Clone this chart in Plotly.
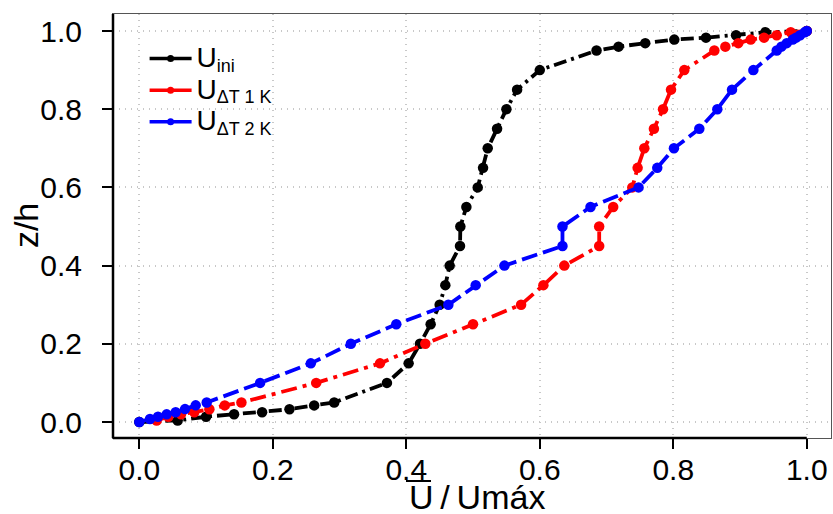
import plotly.graph_objects as go

# Normalised velocity profiles U/Umax against relative height z/h
z_lo = [0, 0.004, 0.0135, 0.02, 0.025, 0.0325, 0.0425, 0.05]
z_mid = [0.1, 0.15, 0.2, 0.25, 0.3, 0.35, 0.4, 0.45, 0.5, 0.55, 0.6,
         0.65, 0.7, 0.75, 0.8, 0.85, 0.9]
z_top = [0.95, 0.96, 0.969, 0.978, 0.983, 0.989, 0.997, 1.0]

z_ini = z_lo + z_mid + z_top
u_ini = [0, 0.0575, 0.100, 0.142, 0.184, 0.225, 0.262, 0.292,
         0.371, 0.4035, 0.4205, 0.4365, 0.450, 0.4585, 0.465, 0.4805, 0.481,
         0.490, 0.507, 0.515, 0.522, 0.536, 0.550, 0.566, 0.600,
         0.685, 0.718, 0.758, 0.8015, 0.849, 0.894, 0.938, 1.0]

z_dt1 = z_lo[1:] + z_mid + z_top
u_dt1 = [0.026, 0.0435, 0.0625, 0.0824, 0.105, 0.128, 0.153,
         0.265, 0.3606, 0.4285, 0.500, 0.572, 0.6054, 0.6367, 0.689, 0.689,
         0.710, 0.7386, 0.7466, 0.7566, 0.771, 0.7846, 0.7966, 0.8165,
         0.8615, 0.878, 0.8974, 0.916, 0.936, 0.955, 0.976, 1.0]

z_dt2 = [0, 0.0077, 0.0136, 0.0196, 0.025, 0.033, 0.0426, 0.05] + z_mid + z_top
u_dt2 = [0, 0.016, 0.028, 0.041, 0.0545, 0.0685, 0.0845, 0.101,
         0.181, 0.257, 0.317, 0.385, 0.463, 0.504, 0.547, 0.634, 0.634,
         0.676, 0.748, 0.776, 0.801, 0.839, 0.866, 0.888, 0.920,
         0.955, 0.962, 0.970, 0.979, 0.984, 0.990, 0.997, 1.0]

subs = ["ini", "ΔT 1 K", "ΔT 2 K"]
colors = ["#000000", "#ff0000", "#0000ff"]
dashes = ["13px,5px,3px,5px", "16px,6px,4px,6px", "16px,6px"]

tick_vals = [0.0, 0.2, 0.4, 0.6, 0.8, 1.0]
tick_text = ["0.0", "0.2", "0.4", "0.6", "0.8", "1.0"]

FONT = "Liberation Sans, Arial, Helvetica, sans-serif"


def legend_label(sub):
    return ("<span style='font-size:28px'>U</span>"
            f"<sub><span style='font-size:18px'>{sub}</span></sub>")


fig = go.Figure()
for u, z, col, dash in zip([u_ini, u_dt1, u_dt2], [z_ini, z_dt1, z_dt2],
                           colors, dashes):
    fig.add_trace(go.Scatter(
        x=u, y=z, mode="lines+markers", showlegend=False,
        line=dict(color=col, width=3.8, dash=dash),
        marker=dict(color=col, size=10.5),
    ))

# legend keys: solid line with a small dot
for sub, col in zip(subs, colors):
    fig.add_trace(go.Scatter(
        x=[None], y=[None], mode="lines+markers", name=legend_label(sub),
        line=dict(color=col, width=3.5), marker=dict(color=col, size=7),
    ))

x_range = [-0.0394, 1.0363]
y_range = [-0.0409, 1.0435]

axis_common = dict(
    showgrid=True, gridcolor="#c8c8c8", griddash="1px,5px", gridwidth=1.5,
    zeroline=False, showline=True, mirror=True, linecolor="#555555",
    linewidth=1, ticks="outside", ticklen=10, tickwidth=2, tickcolor="black",
    tickvals=tick_vals, ticktext=tick_text,
    tickfont=dict(family=FONT, size=30, color="black"),
)

# pixel geometry of the plotting area, used for the title overline
PLOT_L, PLOT_W, PLOT_B, PLOT_H = 113, 718, 438, 424

fig.update_layout(
    width=833, height=514,
    margin=dict(l=113, r=2, t=14, b=76),
    paper_bgcolor="white", plot_bgcolor="white",
    xaxis=dict(range=x_range, ticklabelstandoff=-5, **axis_common),
    yaxis=dict(range=y_range, ticklabelstandoff=14, **axis_common),
    showlegend=True,
    legend=dict(x=0.044, y=0.944, xanchor="left", yanchor="top",
                bgcolor="rgba(0,0,0,0)", borderwidth=0,
                font=dict(family=FONT, size=22, color="black"),
                tracegroupgap=0, itemwidth=42),
    annotations=[
        dict(text="U\u2009/\u2009Umáx", xref="paper", yref="paper",
             x=(477 - PLOT_L) / PLOT_W, y=(PLOT_B - 497) / PLOT_H,
             xanchor="center", yanchor="middle",
             showarrow=False, font=dict(family=FONT, size=34, color="black")),
        dict(text="z/h", xref="paper", yref="paper", textangle=-90,
             x=-0.121, y=0.5, xanchor="center", yanchor="middle",
             showarrow=False, font=dict(family=FONT, size=34, color="black")),
    ],
    shapes=[
        # heavy left and bottom axis lines over the thin frame
        dict(type="line", xref="paper", yref="paper", x0=0, x1=0, y0=0, y1=1,
             line=dict(color="black", width=2.5)),
        dict(type="line", xref="x", yref="paper", x0=x_range[0], x1=1.0,
             y0=0, y1=0, line=dict(color="black", width=2.5)),
        # mean bar over the U of the axis title
        dict(type="line", xref="paper", yref="paper",
             x0=(406 - PLOT_L) / PLOT_W, x1=(431 - PLOT_L) / PLOT_W,
             y0=(PLOT_B - 481) / PLOT_H, y1=(PLOT_B - 481) / PLOT_H,
             line=dict(color="black", width=2)),
    ],
)

fig.write_html("out.html")
